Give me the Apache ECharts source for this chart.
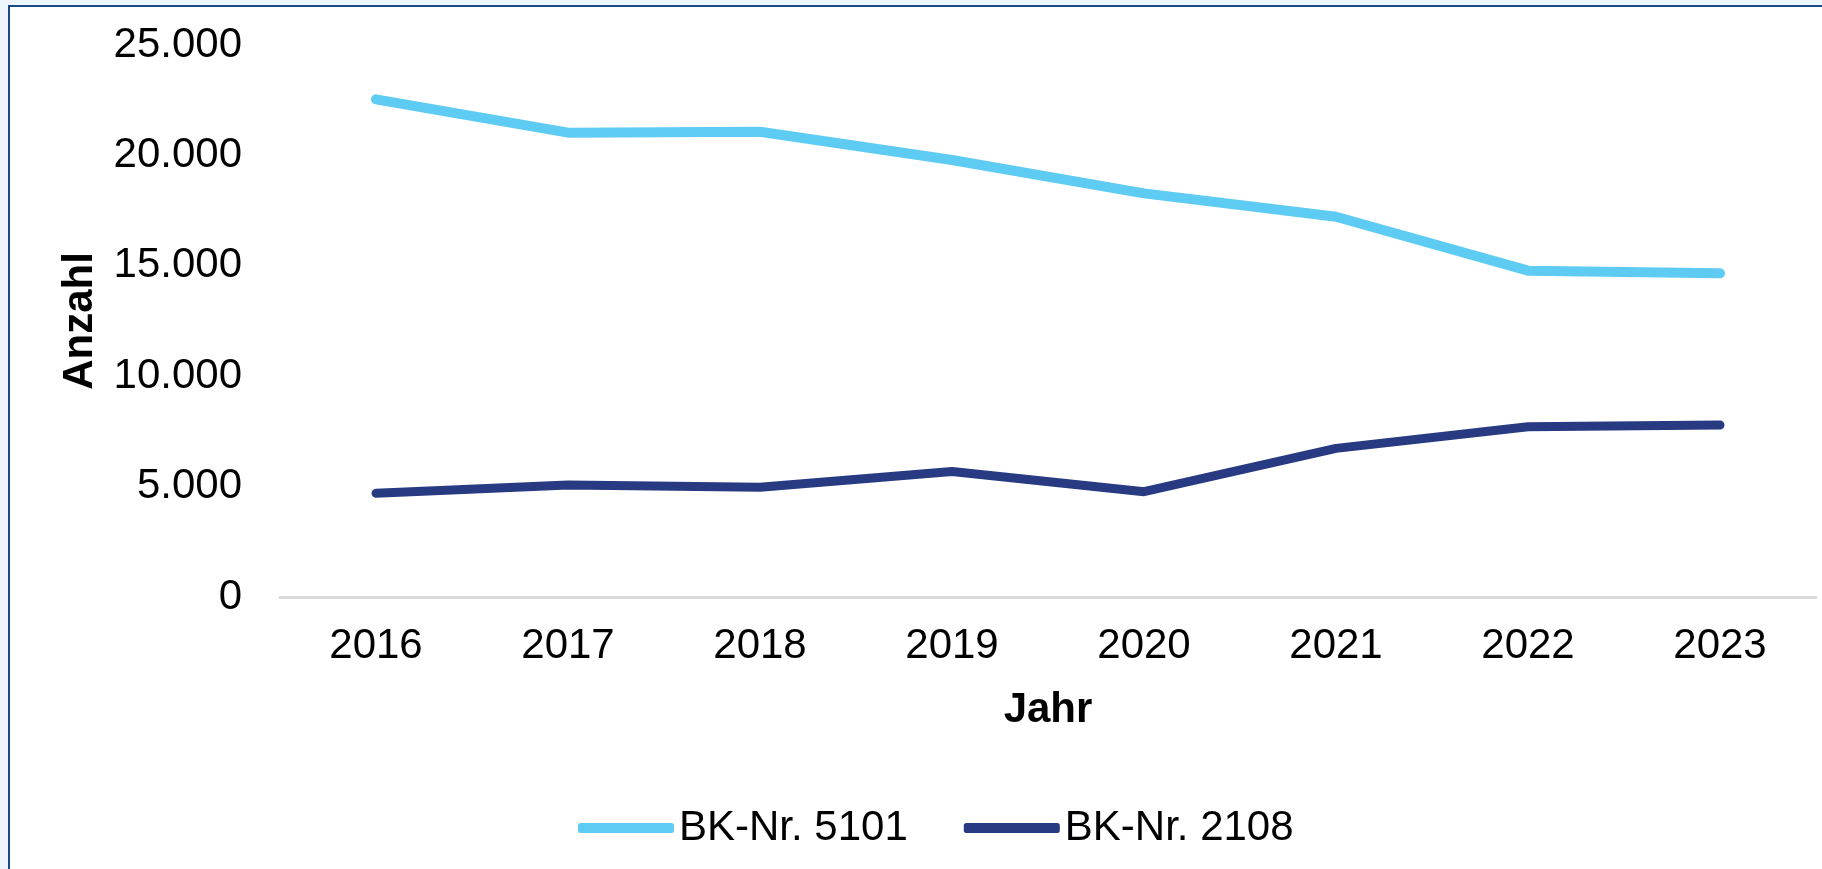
<!DOCTYPE html>
<html>
<head>
<meta charset="utf-8">
<title>BK-Nr. 5101 / 2108</title>
<script src="https://cdn.jsdelivr.net/npm/echarts@6/dist/echarts.min.js"></script>
<style>
  html, body {
    margin: 0;
    padding: 0;
    width: 1822px;
    height: 869px;
    overflow: hidden;
    background: #eef6fd;
  }
  .frame {
    position: absolute;
    left: 8px;
    top: 5px;
    width: 1830px;
    height: 880px;
    border-left: 2px solid #1c4a86;
    border-top: 2px solid #1c4a86;
    background: #ffffff;
  }
  #chart {
    position: absolute;
    left: 0;
    top: 0;
    width: 1822px;
    height: 869px;
  }
</style>
</head>
<body>
<div class="frame"></div>
<div id="chart"></div>
<script>
const years = ['2016', '2017', '2018', '2019', '2020', '2021', '2022', '2023']
const bk5101 = [22540, 21030, 21070, 19790, 18280, 17220, 14780, 14660]
const bk2108 = [4700, 5070, 4970, 5680, 4770, 6730, 7710, 7790]
const seriesNames = ['BK-Nr. 5101', 'BK-Nr. 2108']
const yTicks = [0, 5000, 10000, 15000, 20000, 25000]

const font = 'Arial, "Liberation Sans", sans-serif'

function formatNumber(v) {
  return String(v).replace(/\B(?=(\d{3})+(?!\d))/g, '.')
}

const chart = echarts.init(document.getElementById('chart'), null, { renderer: 'canvas' })

const option = {
  backgroundColor: 'transparent',
  animation: false,
  grid: {
    left: 280,
    right: 6,
    top: 45,
    bottom: 272,
    outerBoundsMode: 'none'
  },
  legend: {
    left: 578,
    top: 807,
    padding: 0,
    itemWidth: 96,
    itemHeight: 10,
    itemGap: 56,
    icon: 'roundRect',
    data: seriesNames,
    textStyle: {
      fontFamily: font,
      fontSize: 42,
      color: '#000000'
    }
  },
  xAxis: {
    type: 'category',
    data: years,
    boundaryGap: true,
    name: 'Jahr',
    nameLocation: 'middle',
    nameGap: 92,
    nameTextStyle: {
      fontFamily: font,
      fontSize: 42,
      fontWeight: 'bold',
      color: '#000000'
    },
    axisLine: {
      lineStyle: {
        color: '#d9d9d9',
        width: 3
      }
    },
    axisTick: { show: false },
    axisLabel: {
      fontFamily: font,
      fontSize: 42,
      color: '#000000',
      margin: 28
    }
  },
  yAxis: {
    type: 'value',
    min: yTicks[0],
    max: yTicks[yTicks.length - 1],
    interval: yTicks[1] - yTicks[0],
    name: 'Anzahl',
    nameLocation: 'middle',
    nameRotate: 90,
    nameGap: 179,
    nameTextStyle: {
      fontFamily: font,
      fontSize: 42,
      fontWeight: 'bold',
      color: '#000000'
    },
    axisLine: { show: false },
    axisTick: { show: false },
    splitLine: { show: false },
    axisLabel: {
      fontFamily: font,
      fontSize: 42,
      color: '#000000',
      margin: 38,
      formatter: formatNumber
    }
  },
  series: [
    {
      name: seriesNames[0],
      type: 'line',
      data: bk5101,
      symbol: 'none',
      color: '#5ecbf3',
      lineStyle: {
        width: 10,
        color: '#5ecbf3',
        cap: 'round',
        join: 'round'
      }
    },
    {
      name: seriesNames[1],
      type: 'line',
      data: bk2108,
      symbol: 'none',
      color: '#273a82',
      lineStyle: {
        width: 9,
        color: '#273a82',
        cap: 'round',
        join: 'round'
      }
    }
  ]
}

chart.setOption(option)
</script>
</body>
</html>
